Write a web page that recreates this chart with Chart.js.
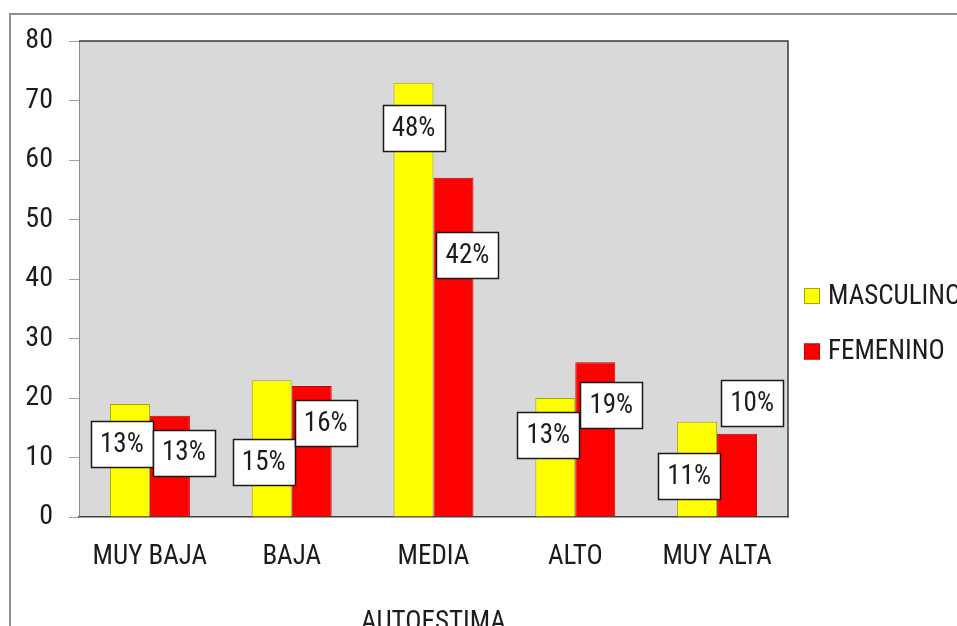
<!DOCTYPE html>
<html>
<head>
<meta charset="utf-8">
<script src="https://cdn.jsdelivr.net/npm/chart.js@4.4.1/dist/chart.umd.min.js"></script>
<style>
  html, body { margin: 0; padding: 0; background: #ffffff; overflow: hidden; }
  canvas { display: block; }
</style>
</head>
<body>
<canvas id="chart" width="957" height="626"></canvas>
<script>
// ---- data ----
const categories = ['MUY BAJA', 'BAJA', 'MEDIA', 'ALTO', 'MUY ALTA'];
const seriesNames = ['MASCULINO', 'FEMENINO'];
const masculino = [19, 23, 73, 20, 16];
const femenino = [17, 22, 57, 26, 14];
const yTickValues = [0, 10, 20, 30, 40, 50, 60, 70, 80];
const axisTitle = 'AUTOESTIMA';

// ---- label box placement (per series, per category) ----
// horizontal shift from the bar centre in px, and the box centre height in axis units
const labelShift = [[-8, -8, 0, -7, -8], [14, 14, 14, 16, 15]];
const labelLevel = [[12.3, 9.2, 65.3, 13.8, 6.9], [10.8, 15.8, 44.0, 18.8, 19.2]];

// ---- styling ----
const FONT = "'Liberation Sans Narrow', 'Arial Narrow', 'Roboto Condensed', Roboto, sans-serif";
const FONT_SIZE = 27;
const TEXT = '#1c1c1c';
const fills = ['#FFFF00', '#FF0000'];
const edges = ['#A6A600', '#C80000'];

const percentOf = (arr) => {
  const total = arr.reduce((a, b) => a + b, 0);
  return arr.map(v => Math.round(v / total * 100) + '%');
};

// frame, plot background and plot border
const framePlugin = {
  id: 'frame',
  beforeDraw(chart) {
    const { ctx, chartArea: a } = chart;
    ctx.save();
    ctx.fillStyle = '#ffffff';
    ctx.fillRect(0, 0, chart.width, chart.height);
    ctx.strokeStyle = '#909090';
    ctx.lineWidth = 2;
    ctx.beginPath();
    ctx.moveTo(10, chart.height + 2);
    ctx.lineTo(10, 14);
    ctx.lineTo(chart.width + 2, 14);
    ctx.stroke();
    ctx.fillStyle = '#D9D9D9';
    ctx.fillRect(a.left, a.top, a.right - a.left, a.bottom - a.top);
    ctx.restore();
  },
  beforeDatasetsDraw(chart) {
    const { ctx, chartArea: a } = chart;
    ctx.save();
    ctx.strokeStyle = '#3a3a3a';
    ctx.lineWidth = 1.5;
    ctx.beginPath();
    ctx.moveTo(a.left, a.top);
    ctx.lineTo(a.right, a.top);
    ctx.lineTo(a.right, a.bottom);
    ctx.stroke();
    ctx.restore();
  }
};

// percentage boxes
const boxLabelPlugin = {
  id: 'boxLabels',
  afterDatasetsDraw(chart) {
    const { ctx } = chart;
    const y = chart.scales.y;
    ctx.save();
    ctx.font = FONT_SIZE + 'px ' + FONT;
    ctx.textAlign = 'center';
    ctx.textBaseline = 'middle';
    chart.data.datasets.forEach((ds, di) => {
      const texts = percentOf(ds.data);
      chart.getDatasetMeta(di).data.forEach((bar, i) => {
        const cx = bar.x + labelShift[di][i];
        const cy = y.getPixelForValue(labelLevel[di][i]);
        const w = 62, h = 46;
        const x0 = Math.round(cx - w / 2) + 0.5;
        const y0 = Math.round(cy - h / 2) + 0.5;
        ctx.fillStyle = '#ffffff';
        ctx.fillRect(x0, y0, w, h);
        ctx.strokeStyle = '#1a1a1a';
        ctx.lineWidth = 1.5;
        ctx.strokeRect(x0, y0, w, h);
        ctx.fillStyle = TEXT;
        ctx.fillText(texts[i], cx, cy + 1);
      });
    });
    ctx.restore();
  }
};

// legend on the right
const sideLegendPlugin = {
  id: 'sideLegend',
  afterDraw(chart) {
    const { ctx } = chart;
    ctx.save();
    ctx.font = FONT_SIZE + 'px ' + FONT;
    ctx.textAlign = 'left';
    ctx.textBaseline = 'middle';
    chart.data.datasets.forEach((ds, di) => {
      const cy = 296 + di * 55.5;
      ctx.fillStyle = ds.backgroundColor;
      ctx.fillRect(804, cy - 8, 16, 16);
      ctx.strokeStyle = ds.borderColor;
      ctx.lineWidth = 1;
      ctx.strokeRect(804.5, cy - 7.5, 15, 15);
      ctx.fillStyle = TEXT;
      ctx.fillText(ds.label, 828, cy + 1);
    });
    ctx.restore();
  }
};

new Chart(document.getElementById('chart'), {
  type: 'bar',
  data: {
    labels: categories,
    datasets: [
      { label: seriesNames[0], data: masculino, backgroundColor: fills[0], borderColor: edges[0], borderWidth: 1 },
      { label: seriesNames[1], data: femenino, backgroundColor: fills[1], borderColor: edges[1], borderWidth: 1 }
    ]
  },
  options: {
    responsive: false,
    animation: false,
    events: [],
    datasets: { bar: { categoryPercentage: 0.564, barPercentage: 1.0 } },
    layout: { padding: { top: 41, right: 169, bottom: 0, left: 0 } },
    plugins: { legend: { display: false }, tooltip: { enabled: false }, title: { display: false } },
    scales: {
      x: {
        grid: { display: false, drawTicks: false },
        border: { display: true, color: '#404040', width: 1.5 },
        ticks: { color: TEXT, font: { family: FONT, size: FONT_SIZE }, padding: 24, maxRotation: 0 },
        title: { display: true, text: axisTitle, color: TEXT, font: { family: FONT, size: FONT_SIZE }, padding: { top: 0, bottom: -13 } },
        afterFit(scale) { scale.height = 109; }
      },
      y: {
        min: 0,
        max: 80,
        afterBuildTicks(scale) { scale.ticks = yTickValues.map(v => ({ value: v })); },
        grid: { drawOnChartArea: false, drawTicks: true, tickLength: 10, color: '#A0A0A0' },
        border: { display: true, color: '#8C8C8C', width: 1 },
        ticks: { color: TEXT, font: { family: FONT, size: 28 }, padding: 16 },
        afterFit(scale) { scale.width = 79; }
      }
    }
  },
  plugins: [framePlugin, boxLabelPlugin, sideLegendPlugin]
});
</script>
</body>
</html>
